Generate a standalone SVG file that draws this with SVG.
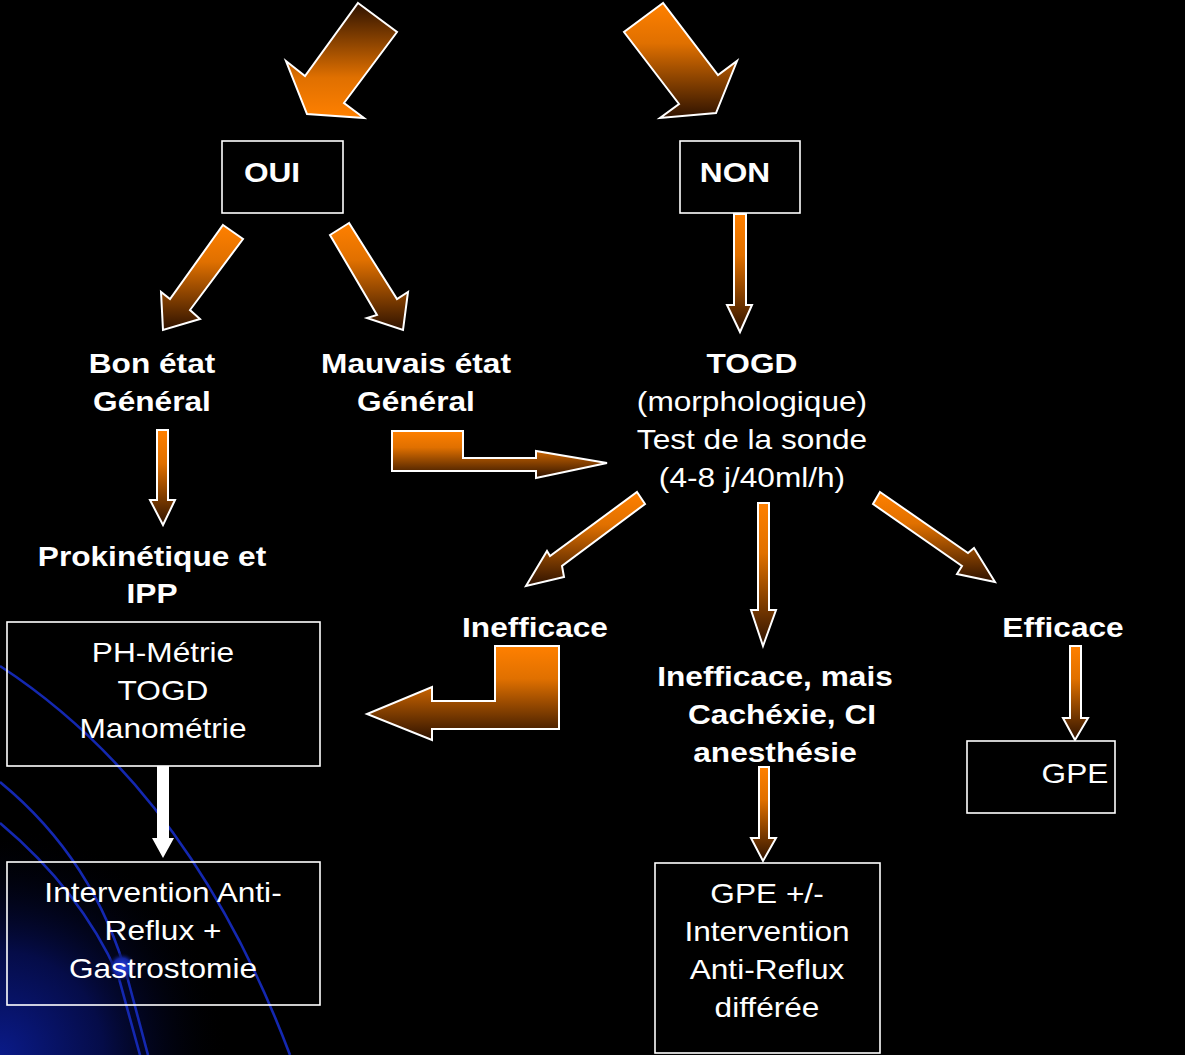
<svg xmlns="http://www.w3.org/2000/svg" width="1185" height="1055" viewBox="0 0 1185 1055">
<defs>
<linearGradient id="gDown" x1="0" y1="0" x2="0" y2="1"><stop offset="0" stop-color="#ff8000"/><stop offset="0.35" stop-color="#e07000"/><stop offset="1" stop-color="#2e1200"/></linearGradient>
<linearGradient id="gUp" x1="0" y1="0" x2="0" y2="1"><stop offset="0" stop-color="#2e1200"/><stop offset="0.65" stop-color="#e07000"/><stop offset="1" stop-color="#ff8000"/></linearGradient>
<radialGradient id="glow" cx="0" cy="1055" r="230" gradientUnits="userSpaceOnUse"><stop offset="0" stop-color="#0a1a88"/><stop offset="0.45" stop-color="#050c48"/><stop offset="1" stop-color="#000" stop-opacity="0"/></radialGradient>
<radialGradient id="ball" cx="0.5" cy="0.5" r="0.5"><stop offset="0" stop-color="#2a46e8"/><stop offset="0.6" stop-color="#12249e"/><stop offset="1" stop-color="#000" stop-opacity="0"/></radialGradient>
</defs>
<style>
.box{fill:#000;stroke:#fff;stroke-width:1.6}
.boxc{fill:none;stroke:#fff;stroke-width:1.6}
.ar{stroke:#fff;stroke-width:2;stroke-linejoin:miter}
.d{fill:url(#gDown)}
.u{fill:url(#gUp)}
.t{font-family:"Liberation Sans",Arial,sans-serif;font-size:28px;fill:#fff;text-anchor:middle}
.b{font-weight:bold}
.curve{fill:none;stroke:#1428b0;stroke-width:2.6}
</style>
<rect width="1185" height="1055" fill="#000"/>
<g id="background">
<rect x="0" y="800" width="260" height="255" fill="url(#glow)"/>
<path class="curve" d="M0,666 Q190,790 290,1055"/>
<path class="curve" d="M0,782 Q95,860 128,980 L148,1055"/>
<path class="curve" d="M0,823 Q80,890 118,975 L140,1055"/>
<circle cx="122" cy="967" r="15" fill="url(#ball)"/>
</g>
<g id="connectors">
<polygon class="ar u" points="358,3 397,32 344,103 364,118 307,114 286,61 305,76"/>
<polygon class="ar d" points="663,3 624,32 679,104 660,118 716,113 737,61 718,75"/>
<polygon class="ar d" points="223,225 243,239 190,310 200,319 163,330 161,292 170,299"/>
<polygon class="ar d" points="349,223 330,235 377,315 367,318 403,330 408,292 397,299"/>
<polygon class="ar d" points="734,214 746,214 746,305 752,305 740,332 727,305 734,305"/>
<polygon class="ar d" points="157,430 168,430 168,500 175,500 163,525 150,500 157,500"/>
<polygon class="ar d" points="392,431 463,431 463,458 536,458 536,451 607,463 536,478 536,471 392,471"/>
<polygon class="ar d" points="637,492 645,504 562,566 564,577 526,586 547,551 550,556"/>
<polygon class="ar d" points="758,503 769,503 769,610 776,610 763,646 751,610 758,610"/>
<polygon class="ar d" points="880,492 968,553 974,548 995,582 957,574 962,566 873,504"/>
<polygon class="ar d" points="495,646 559,646 559,729 432,729 432,740 367,714 432,687 432,701 495,701"/>
<polygon class="ar d" points="1070,646 1081,646 1081,718 1088,718 1075,740 1063,718 1070,718"/>
<polygon class="ar d" points="759,767 769,767 769,838 776,838 763,861 751,838 759,838"/>
<polygon fill="#fff" points="157,766 169,766 169,838 174,838 163,858 152,838 157,838"/>
</g>
<g id="node-oui">
<rect class="box" x="222" y="141" width="121" height="72"/>
<text class="t b" transform="translate(272,182) scale(1.13,1)">OUI</text>
</g>
<g id="node-non">
<rect class="box" x="680" y="141" width="120" height="72"/>
<text class="t b" transform="translate(735,182) scale(1.13,1)">NON</text>
</g>
<g id="node-bon">
<text class="t b" transform="translate(152,373) scale(1.13,1)">Bon état</text>
<text class="t b" transform="translate(152,411) scale(1.13,1)">Général</text>
</g>
<g id="node-mauvais">
<text class="t b" transform="translate(416,373) scale(1.13,1)">Mauvais état</text>
<text class="t b" transform="translate(416,411) scale(1.13,1)">Général</text>
</g>
<g id="node-togd">
<text class="t b" transform="translate(752,373) scale(1.13,1)">TOGD</text>
<text class="t" transform="translate(752,411) scale(1.13,1)">(morphologique)</text>
<text class="t" transform="translate(752,449) scale(1.13,1)">Test de la sonde</text>
<text class="t" transform="translate(752,487) scale(1.13,1)">(4-8 j/40ml/h)</text>
</g>
<g id="node-prokinetique">
<text class="t b" transform="translate(152,566) scale(1.13,1)">Prokinétique et</text>
<text class="t b" transform="translate(152,603) scale(1.13,1)">IPP</text>
</g>
<g id="node-phmetrie">
<rect class="boxc" x="7" y="622" width="313" height="144"/>
<text class="t" transform="translate(163,662) scale(1.13,1)">PH-Métrie</text>
<text class="t" transform="translate(163,700) scale(1.13,1)">TOGD</text>
<text class="t" transform="translate(163,738) scale(1.13,1)">Manométrie</text>
</g>
<g id="node-intervention">
<rect class="boxc" x="7" y="862" width="313" height="143"/>
<text class="t" transform="translate(163,902) scale(1.13,1)">Intervention Anti-</text>
<text class="t" transform="translate(163,940) scale(1.13,1)">Reflux +</text>
<text class="t" transform="translate(163,978) scale(1.13,1)">Gastrostomie</text>
</g>
<g id="node-inefficace">
<text class="t b" transform="translate(535,637) scale(1.13,1)">Inefficace</text>
</g>
<g id="node-inefficace-mais">
<text class="t b" transform="translate(775,686) scale(1.13,1)">Inefficace, mais</text>
<text class="t b" transform="translate(782,724) scale(1.13,1)">Cachéxie, CI</text>
<text class="t b" transform="translate(775,762) scale(1.13,1)">anesthésie</text>
</g>
<g id="node-efficace">
<text class="t b" transform="translate(1063,637) scale(1.13,1)">Efficace</text>
</g>
<g id="node-gpe">
<rect class="box" x="967" y="741" width="148" height="72"/>
<text class="t" transform="translate(1075,783) scale(1.13,1)">GPE</text>
</g>
<g id="node-gpe-intervention">
<rect class="box" x="655" y="863" width="225" height="190"/>
<text class="t" transform="translate(767,903) scale(1.13,1)">GPE +/-</text>
<text class="t" transform="translate(767,941) scale(1.13,1)">Intervention</text>
<text class="t" transform="translate(767,979) scale(1.13,1)">Anti-Reflux</text>
<text class="t" transform="translate(767,1017) scale(1.13,1)">différée</text>
</g>
</svg>
